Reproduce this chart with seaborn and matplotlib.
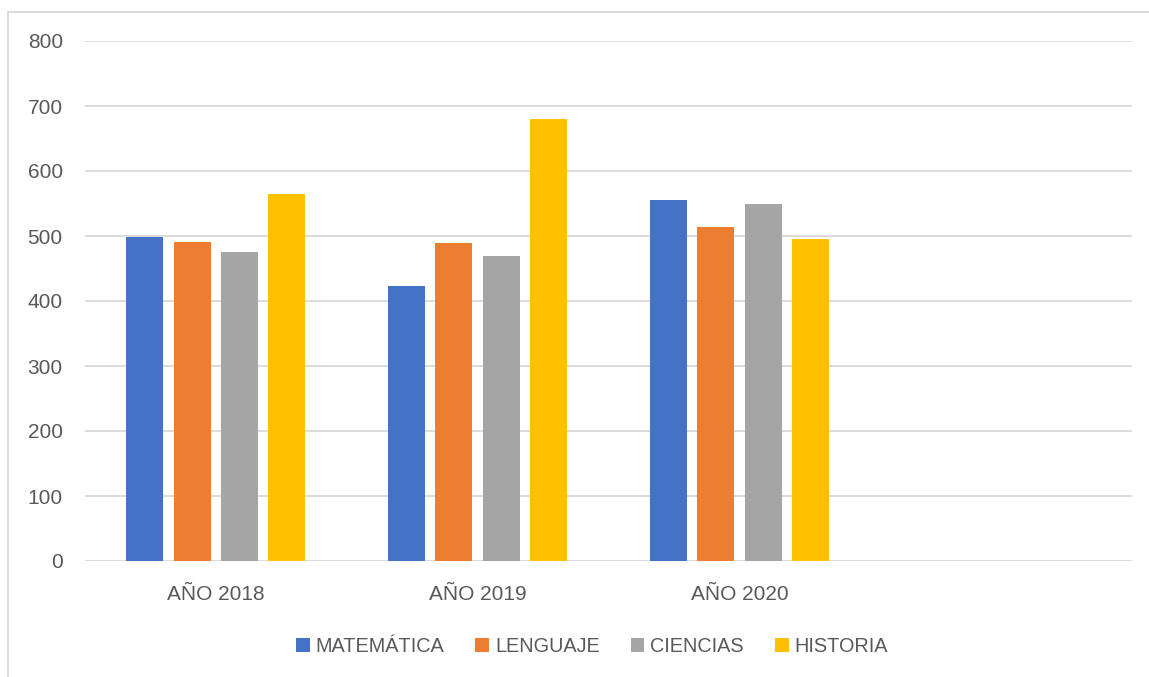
import matplotlib
matplotlib.use("Agg")
import matplotlib.pyplot as plt
import seaborn as sns
import pandas as pd
from matplotlib.patches import Rectangle

# ---- data ----
years = ["AÑO 2018", "AÑO 2019", "AÑO 2020"]
slots = years + [""]          # empty fourth category slot, as in the reference
subjects = ["MATEMÁTICA", "LENGUAJE", "CIENCIAS", "HISTORIA"]
matematica = [498, 423, 556]
lenguaje = [491, 490, 514]
ciencias = [475, 470, 550]
historia = [565, 680, 495]
colors = ["#4472C4", "#ED7D31", "#A5A5A5", "#FFC000"]
y_ticks = [0, 100, 200, 300, 400, 500, 600, 700, 800]

series = {"MATEMÁTICA": matematica, "LENGUAJE": lenguaje,
          "CIENCIAS": ciencias, "HISTORIA": historia}
rows = []
for s in subjects:
    for y, v in zip(years, series[s]):
        rows.append({"year": y, "subject": s, "value": v})
df = pd.DataFrame(rows)

sns.set_theme(style="white")
plt.rcParams['font.family'] = ['Liberation Sans', 'DejaVu Sans']
text_color = "#595959"
grid_color = "#D9D9D9"

W, H = 1149, 677
fig = plt.figure(figsize=(W / 100, H / 100), dpi=100)
fig.patch.set_facecolor("white")
ax = fig.add_axes([85 / W, (H - 561) / H, 1047 / W, 520 / H])

sns.barplot(data=df, x="year", y="value", hue="subject", order=slots,
            hue_order=subjects, palette=colors, width=0.7226, gap=0.218,
            saturation=1, linewidth=0, ax=ax, legend=True, errorbar=None)

ax.set_ylim(0, 800)
ax.set_xlim(-0.5, 3.5)
ax.set_yticks(y_ticks)
ax.set_yticklabels([str(t) for t in y_ticks])
ax.set_xlabel("")
ax.set_ylabel("")
ax.yaxis.grid(True, color=grid_color, linewidth=1.3)
ax.xaxis.grid(False)
ax.set_axisbelow(True)
for sp in ax.spines.values():
    sp.set_visible(False)
ax.tick_params(axis="y", length=0, pad=16, labelsize=15, labelcolor=text_color)
ax.tick_params(axis="x", length=0, pad=17, labelsize=15, labelcolor=text_color)

h, l = ax.get_legend_handles_labels()
ax.get_legend().remove()
leg = fig.legend(h, l, loc="center", bbox_to_anchor=(592 / W, 1 - 646 / H),
                 ncol=4, frameon=False, fontsize=14.3,
                 handlelength=0.7, handleheight=0.7, handletextpad=0.3,
                 columnspacing=1.55)
for t in leg.get_texts():
    t.set_color(text_color)

# chart-area border (left and top visible in the reference)
fig.patches.append(Rectangle((8 / W, -0.1), 1.2, (H - 12) / H + 0.1,
                             transform=fig.transFigure, fill=False,
                             edgecolor=grid_color, linewidth=1.3))

fig.savefig("out.png", dpi=100, facecolor="white")
